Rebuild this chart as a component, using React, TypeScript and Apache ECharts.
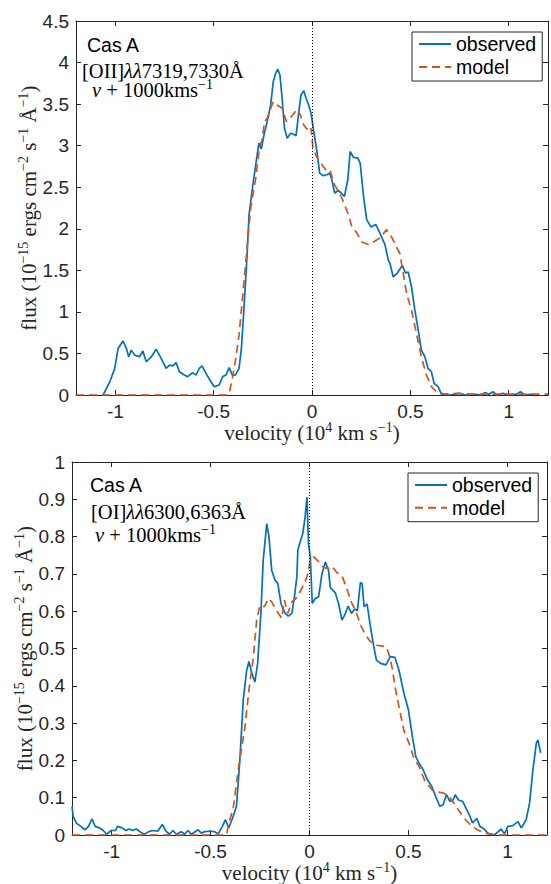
import React, { useEffect, useRef } from "react";
import * as echarts from "echarts";

// ---- data (velocity in 1e4 km/s, flux) ----
const topObserved: number[][] = [
  [-1.062, 0], [-1.028, 0.16], [-1.003, 0.32], [-0.986, 0.56], [-0.961, 0.65], [-0.944, 0.56], [-0.932, 0.46],
  [-0.919, 0.54], [-0.902, 0.48], [-0.877, 0.46], [-0.86, 0.53], [-0.843, 0.4], [-0.817, 0.46], [-0.792, 0.55],
  [-0.767, 0.44], [-0.742, 0.32], [-0.725, 0.36], [-0.708, 0.35], [-0.691, 0.39], [-0.674, 0.28], [-0.649, 0.24],
  [-0.632, 0.22], [-0.607, 0.27], [-0.59, 0.24], [-0.573, 0.32], [-0.559, 0.35], [-0.539, 0.26], [-0.514, 0.16],
  [-0.497, 0.1], [-0.472, 0.12], [-0.455, 0.22], [-0.438, 0.24], [-0.421, 0.33], [-0.405, 0.24], [-0.39, 0.24],
  [-0.371, 0.32], [-0.359, 0.56], [-0.345, 1.08], [-0.332, 1.6], [-0.32, 2.17], [-0.303, 2.49], [-0.286, 2.77],
  [-0.27, 3.03], [-0.258, 2.96], [-0.244, 3.13], [-0.228, 3.29], [-0.21, 3.49], [-0.197, 3.77], [-0.185, 3.87],
  [-0.174, 3.92], [-0.163, 3.85], [-0.152, 3.57], [-0.14, 3.21], [-0.126, 3.09], [-0.109, 3.15], [-0.096, 3.14],
  [-0.081, 3.12], [-0.067, 3.41], [-0.056, 3.61], [-0.042, 3.66], [-0.03, 3.57], [-0.017, 3.49], [-0.005, 3.39],
  [0.009, 3.17], [0.025, 2.93], [0.039, 2.67], [0.056, 2.64], [0.076, 2.65], [0.09, 2.67], [0.101, 2.59],
  [0.115, 2.43], [0.135, 2.46], [0.165, 2.39], [0.182, 2.59], [0.194, 2.93], [0.211, 2.86], [0.233, 2.85],
  [0.245, 2.79], [0.262, 2.39], [0.278, 2.11], [0.3, 2.02], [0.324, 2.05], [0.337, 1.99], [0.354, 1.9],
  [0.371, 1.81], [0.388, 1.62], [0.397, 1.58], [0.413, 1.42], [0.435, 1.47], [0.459, 1.56], [0.475, 1.47],
  [0.489, 1.48], [0.506, 1.3], [0.523, 1.02], [0.54, 0.78], [0.556, 0.54], [0.574, 0.46], [0.59, 0.32],
  [0.607, 0.28], [0.621, 0.14], [0.641, 0.1], [0.658, 0.01], [0.7, 0], [0.75, 0.02], [0.78, 0], [0.82, 0.01],
  [0.86, 0], [0.88, 0.03], [0.9, 0.01], [0.92, 0.04], [0.94, 0], [0.97, 0.02], [1.0, 0], [1.04, 0.01],
  [1.06, 0.04], [1.08, 0], [1.12, 0.01],
];

const topModel: number[][] = [
  [-1.2, 0], [-0.43, 0], [-0.421, 0.02], [-0.405, 0.2], [-0.39, 0.4], [-0.371, 0.72], [-0.349, 1.28],
  [-0.329, 1.8], [-0.312, 2.25], [-0.286, 2.61], [-0.27, 2.93], [-0.253, 3.09], [-0.241, 3.29], [-0.228, 3.33],
  [-0.21, 3.45], [-0.197, 3.53], [-0.177, 3.49], [-0.152, 3.45], [-0.13, 3.29], [-0.101, 3.36], [-0.076, 3.44],
  [-0.059, 3.37], [-0.042, 3.25], [-0.017, 3.17], [-0.005, 3.21], [0.005, 2.97], [0.025, 2.86], [0.051, 2.77],
  [0.076, 2.69], [0.093, 2.7], [0.11, 2.55], [0.15, 2.38], [0.182, 2.19], [0.202, 2.03], [0.228, 1.95],
  [0.253, 1.84], [0.287, 1.81], [0.312, 1.84], [0.346, 1.89], [0.379, 1.99], [0.405, 1.9], [0.43, 1.78],
  [0.447, 1.7], [0.464, 1.46], [0.481, 1.22], [0.506, 1.02], [0.531, 0.74], [0.556, 0.46], [0.582, 0.24],
  [0.607, 0.1], [0.632, 0.04], [0.675, 0.01], [0.742, 0.02], [0.8, 0.01], [0.9, 0.01], [1.0, 0.01], [1.2, 0.01],
];

const bottomObserved: number[][] = [
  [-1.2, 0.077], [-1.194, 0.05], [-1.178, 0.032], [-1.155, 0.023], [-1.134, 0.014], [-1.117, 0.023],
  [-1.099, 0.043], [-1.083, 0.023], [-1.062, 0.019], [-1.046, 0.014], [-1.025, 0.002], [-1.003, 0.012],
  [-0.981, 0.012], [-0.97, 0.023], [-0.947, 0.019], [-0.927, 0.012], [-0.91, 0.016], [-0.893, 0.012],
  [-0.876, 0.016], [-0.851, 0.007], [-0.834, 0.002], [-0.812, 0.009], [-0.792, 0.012], [-0.767, 0.01],
  [-0.744, 0.028], [-0.724, 0.01], [-0.707, 0.002], [-0.69, 0.012], [-0.673, 0.002], [-0.648, 0.009],
  [-0.631, 0.002], [-0.614, 0.012], [-0.597, 0.002], [-0.563, 0.014], [-0.546, 0.005], [-0.529, 0.009],
  [-0.504, 0.01], [-0.479, 0.009], [-0.462, 0.003], [-0.44, 0.023], [-0.425, 0.041], [-0.408, 0.019],
  [-0.389, 0.045], [-0.369, 0.077], [-0.352, 0.2], [-0.335, 0.36], [-0.318, 0.44], [-0.306, 0.465],
  [-0.292, 0.435], [-0.276, 0.41], [-0.262, 0.46], [-0.245, 0.6], [-0.234, 0.737], [-0.216, 0.835],
  [-0.205, 0.8], [-0.191, 0.71], [-0.174, 0.683], [-0.16, 0.674], [-0.144, 0.62], [-0.123, 0.594],
  [-0.107, 0.587], [-0.089, 0.594], [-0.076, 0.639], [-0.064, 0.692], [-0.059, 0.764], [-0.047, 0.786],
  [-0.034, 0.808], [-0.022, 0.853], [-0.013, 0.906], [-0.005, 0.78], [0.004, 0.746], [0.014, 0.621],
  [0.029, 0.634], [0.046, 0.639], [0.063, 0.7], [0.08, 0.732], [0.096, 0.71], [0.105, 0.663], [0.13, 0.65],
  [0.147, 0.62], [0.164, 0.576], [0.178, 0.59], [0.195, 0.614], [0.212, 0.594], [0.229, 0.606], [0.242, 0.601],
  [0.257, 0.677], [0.266, 0.674], [0.276, 0.612], [0.291, 0.619], [0.308, 0.558], [0.325, 0.505],
  [0.338, 0.469], [0.359, 0.46], [0.386, 0.456], [0.408, 0.478], [0.432, 0.476], [0.452, 0.442], [0.477, 0.38],
  [0.5, 0.335], [0.52, 0.264], [0.537, 0.21], [0.553, 0.193], [0.574, 0.175], [0.596, 0.148], [0.618, 0.13],
  [0.638, 0.103], [0.658, 0.077], [0.675, 0.081], [0.692, 0.108], [0.709, 0.09], [0.726, 0.094], [0.736, 0.108],
  [0.753, 0.094], [0.774, 0.09], [0.794, 0.068], [0.811, 0.05], [0.824, 0.032], [0.845, 0.045], [0.861, 0.023],
  [0.883, 0.016], [0.9, 0.005], [0.934, 0], [0.968, 0.016], [0.985, 0.003], [1.002, 0.023], [1.027, 0.025],
  [1.053, 0.036], [1.07, 0.019], [1.095, 0.041], [1.112, 0.086], [1.129, 0.175], [1.146, 0.246], [1.154, 0.255],
  [1.168, 0.22],
];

const bottomModel: number[][] = [
  [-1.2, 0], [-0.42, 0], [-0.403, 0.04], [-0.386, 0.07], [-0.36, 0.175], [-0.326, 0.29], [-0.306, 0.389],
  [-0.284, 0.475], [-0.267, 0.576], [-0.25, 0.616], [-0.228, 0.612], [-0.208, 0.634], [-0.191, 0.625],
  [-0.174, 0.608], [-0.157, 0.594], [-0.14, 0.581], [-0.127, 0.63], [-0.11, 0.594], [-0.089, 0.625],
  [-0.069, 0.634], [-0.052, 0.648], [-0.03, 0.67], [-0.013, 0.692], [0.004, 0.735], [0.02, 0.746],
  [0.046, 0.733], [0.071, 0.717], [0.096, 0.715], [0.114, 0.72], [0.139, 0.703], [0.164, 0.695], [0.188, 0.661],
  [0.211, 0.625], [0.236, 0.597], [0.26, 0.56], [0.285, 0.535], [0.305, 0.52], [0.334, 0.509], [0.363, 0.507],
  [0.388, 0.505], [0.405, 0.478], [0.418, 0.447], [0.435, 0.389], [0.452, 0.344], [0.477, 0.28], [0.503, 0.246],
  [0.528, 0.205], [0.553, 0.184], [0.583, 0.145], [0.621, 0.12], [0.655, 0.115], [0.68, 0.112], [0.706, 0.103],
  [0.74, 0.077], [0.774, 0.05], [0.807, 0.03], [0.845, 0.015], [0.875, 0.007], [0.905, 0.003], [0.95, 0],
  [1.2, 0],
];

const xRange = [-1.2, 1.2];
const topYRange = [0, 4.5];
const topYStep = 0.5;
const bottomYRange = [0, 1];
const bottomYStep = 0.1;
const legendNames = ["observed", "model"];
const topLines = ["[OII]", "7319,7330Å"];
const bottomLines = ["[OI]", "6300,6363Å"];

const AX = "#262626";
const BLUE = "#0072BD";
const ORANGE = "#D95319";
const SANS = "Liberation Sans";
const SERIF = "Liberation Serif";

// superscripts: bottom-aligned tokens, raised with a bottom padding
const serifRich = {
  r: { fontFamily: SERIF, fontSize: 20.5, lineHeight: 18, verticalAlign: "bottom", color: "#000" },
  i: { fontFamily: SERIF, fontStyle: "italic", fontSize: 20.5, lineHeight: 18, verticalAlign: "bottom", color: "#000" },
  s: { fontFamily: SERIF, fontSize: 14, lineHeight: 10, verticalAlign: "bottom", padding: [0, 0, 9, 0], color: "#000" },
};
const axisRich = {
  r: { ...serifRich.r, fontSize: 21, color: AX },
  s: { ...serifRich.s, fontSize: 14, color: AX },
};

const xName = "{r|velocity (10}{s|4}{r| km s}{s|−1}{r|)}";
const yName = "{r|flux (10}{s|−15}{r| ergs cm}{s|−2}{r| s}{s|−1}{r| Å}{s|−1}{r|)}";

function xAxes(gridIndex: number) {
  const common = {
    gridIndex,
    type: "value",
    min: xRange[0],
    max: xRange[1],
    splitNumber: 5,
    splitLine: { show: false },
    axisLine: { onZero: false, lineStyle: { color: AX, width: 1 } },
    axisTick: { inside: true, length: 5, lineStyle: { color: AX, width: 1 } },
  };
  return [
    {
      ...common,
      position: "bottom",
      axisLabel: {
        color: AX,
        fontFamily: SANS,
        fontSize: 19,
        margin: 7,
        formatter: (v: number) => (Math.abs(v) > 1.1 ? "" : String(v)),
      },
      name: xName,
      nameLocation: "middle",
      nameGap: 30,
      nameMoveOverlap: false,
      nameTextStyle: { rich: axisRich },
    },
    { ...common, position: "top", axisLabel: { show: false } },
  ];
}

function yAxes(gridIndex: number, range: number[], step: number) {
  const common = {
    gridIndex,
    type: "value",
    min: range[0],
    max: range[1],
    interval: step,
    splitLine: { show: false },
    axisLine: { onZero: false, lineStyle: { color: AX, width: 1 } },
    axisTick: { inside: true, length: 5, lineStyle: { color: AX, width: 1 } },
  };
  return [
    {
      ...common,
      position: "left",
      axisLabel: { color: AX, fontFamily: SANS, fontSize: 19, margin: 7 },
      name: yName,
      nameLocation: "middle",
      nameRotate: 90,
      nameGap: 37,
      nameMoveOverlap: false,
      nameTextStyle: { rich: axisRich },
    },
    { ...common, position: "right", axisLabel: { show: false } },
  ];
}

function seriesFor(obs: number[][], model: number[][], xi: number, yi: number) {
  return [
    {
      name: legendNames[0],
      type: "line",
      xAxisIndex: xi,
      yAxisIndex: yi,
      data: obs,
      symbol: "none",
      lineStyle: { color: BLUE, width: 1.7 },
      itemStyle: { color: BLUE },
      markLine: {
        silent: true,
        symbol: ["none", "none"],
        label: { show: false },
        lineStyle: { color: "#000", width: 1, type: [1, 2] },
        data: [{ xAxis: 0 }],
      },
    },
    {
      name: legendNames[1],
      type: "line",
      xAxisIndex: xi,
      yAxisIndex: yi,
      data: model,
      symbol: "none",
      lineStyle: { color: ORANGE, width: 1.7, type: [8, 5] },
      itemStyle: { color: ORANGE },
    },
  ];
}

function legendAt(left: number, top: number, gap: number, pad: number[]) {
  return {
    left,
    top,
    orient: "vertical",
    data: legendNames,
    itemWidth: 32,
    itemHeight: 14,
    itemGap: gap,
    padding: pad,
    borderColor: AX,
    borderWidth: 1,
    borderRadius: 0,
    backgroundColor: "#fff",
    itemStyle: { color: "rgba(0,0,0,0)", borderWidth: 0, opacity: 0 },
    textStyle: { fontFamily: SANS, fontSize: 19.5, lineHeight: 19, color: "#000" },
    selectedMode: false,
  };
}

function labelTexts(
  x0: number,
  yCas: number,
  x1: number,
  top1: number,
  spacing: number,
  indent: number,
  lines: string[]
) {
  const rich = {
    ...serifRich,
    v: { ...serifRich.i, lineHeight: spacing, padding: [0, 0, 0, indent] },
    r2: { ...serifRich.r, lineHeight: spacing },
  };
  return [
    {
      type: "text",
      x: x0,
      y: yCas,
      style: { text: "Cas A", fontFamily: SANS, fontSize: 19.5, fill: "#000", verticalAlign: "middle" },
    },
    {
      type: "text",
      x: x1,
      y: top1,
      style: {
        text: `{r|${lines[0]}}{i|λλ}{r|${lines[1]}}\n{v|v}{r2| + 1000kms}{s|−1}`,
        rich,
        verticalAlign: "top",
      },
    },
  ];
}

export default function App() {
  const ref = useRef<HTMLDivElement>(null);
  useEffect(() => {
    if (!ref.current) return;
    const chart = echarts.init(ref.current, undefined, { renderer: "svg" });
    const option: any = {
      animation: false,
      backgroundColor: "#fff",
      grid: [
        { left: 76, top: 21, width: 473, height: 374 },
        { left: 72, top: 462, width: 475, height: 373 },
      ],
      xAxis: [...xAxes(0), ...xAxes(1)],
      yAxis: [...yAxes(0, topYRange, topYStep), ...yAxes(1, bottomYRange, bottomYStep)],
      legend: [legendAt(412, 32, 3, [2, 6, 4, 6]), legendAt(408, 473, 2.7, [2, 6, 4, 6])],
      series: [...seriesFor(topObserved, topModel, 0, 0), ...seriesFor(bottomObserved, bottomModel, 2, 2)],
      graphic: [
        ...labelTexts(87, 45, 82, 63, 19, 10, topLines),
        ...labelTexts(90, 485, 91, 504, 23, 4, bottomLines),
      ],
    };
    chart.setOption(option);
    return () => chart.dispose();
  }, []);
  return (
    <div
      ref={ref}
      style={{ position: "absolute", left: 0, top: 0, width: 551, height: 884, background: "#fff" }}
    />
  );
}
